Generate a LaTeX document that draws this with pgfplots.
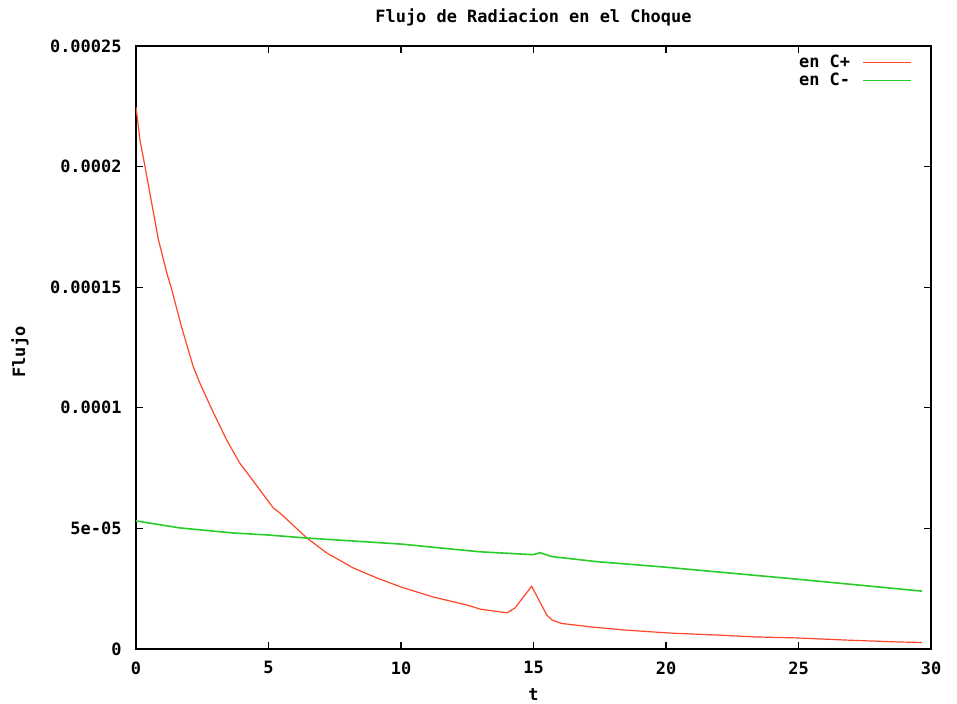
\documentclass[border=0pt]{standalone}
\usepackage{pgfplots}
\pgfplotsset{compat=1.18}
\usepackage{fontspec}
\newfontfamily\gpfont{DejaVu Sans Mono}
\definecolor{gpred}{RGB}{255,70,40}
\definecolor{gpgreen}{RGB}{40,205,40}
\newcommand{\gpf}{\gpfont\bfseries\fontsize{17}{19}\selectfont}
\begin{document}
\begin{tikzpicture}
\path[use as bounding box] (-136bp,-55bp) rectangle (821bp,649bp);
\begin{axis}[
  at={(0,0)}, anchor=south west,
  scale only axis,
  width=795bp, height=603bp,
  xmin=0, xmax=30, ymin=0, ymax=0.00025,
  xtick={0,5,10,15,20,25,30},
  xticklabels={0,5,10,15,20,25,30},
  ytick={0,0.00005,0.0001,0.00015,0.0002,0.00025},
  yticklabels={0,5e-05,0.0001,0.00015,0.0002,0.00025},
  scaled y ticks=false,
  tick align=inside,
  major tick length=7bp,
  minor tick num=0,
  axis line style={black, line width=1.2bp},
  every tick/.style={black, line width=1.2bp},
  ticklabel style={font=\gpf},
  xticklabel style={yshift=-9bp},
  yticklabel style={xshift=-11bp},
  every axis title shift=0pt,
  title={Flujo de Radiacion en el Choque},
  title style={font=\gpf, at={(0.5,1)}, anchor=center, yshift=29bp},
  xlabel={t},
  xlabel style={font=\gpf, at={(axis description cs:0.5,0)}, anchor=center, yshift=-46bp},
  ylabel={Flujo},
  ylabel style={font=\gpf, at={(axis description cs:-0.146,0.4925)}, anchor=center, rotate=0},
  legend style={draw=none, fill=none, at={(0.977,0.99)}, anchor=north east,
    font=\gpf, row sep=0bp, column sep=10bp, inner sep=1bp},
  legend cell align=right,
  legend plot pos=right,
  legend image code/.code={\draw[#1, line width=1.4bp] (0bp,0bp) -- (48bp,0bp);},
]
\addplot[color=gpred, line width=1.2bp] coordinates {
(0,2.247e-4) (0.15,2.11e-4) (0.34,2.0e-4) (0.59,1.85e-4) (0.84,1.70e-4)
(1.16,1.56e-4) (1.35,1.49e-4) (1.54,1.41e-4) (1.72,1.335e-4) (2.16,1.17e-4)
(2.42,1.10e-4) (2.92,9.8e-5) (3.42,8.67e-5) (3.92,7.7e-5) (4.4,7.0e-5)
(5.18,5.85e-5) (5.43,5.64e-5) (6.45,4.6e-5) (7.2,3.98e-5) (8.2,3.36e-5)
(9.1,2.94e-5) (10.0,2.57e-5) (11.2,2.16e-5) (12.5,1.82e-5) (13.0,1.65e-5)
(14.0,1.5e-5) (14.3,1.7e-5) (14.93,2.6e-5) (15.5,1.41e-5) (15.7,1.2e-5)
(16.06,1.06e-5) (17.13,9.2e-6) (18.4,7.9e-6) (20.15,6.6e-6) (21.9,5.8e-6)
(23.4,5.0e-6) (24.9,4.6e-6) (26.8,3.7e-6) (28.8,2.9e-6) (29.66,2.7e-6)
};
\addlegendentry{en C+}
\addplot[color=gpgreen, line width=1.6bp] coordinates {
(0,5.31e-5) (1.66,5.02e-5) (3.66,4.81e-5) (4.94,4.73e-5) (6.45,4.6e-5)
(10,4.35e-5) (12.98,4.03e-5) (14.98,3.91e-5) (15.25,3.99e-5) (15.7,3.83e-5)
(17.4,3.62e-5) (19.9,3.4e-5) (24.9,2.9e-5) (29.66,2.4e-5)
};
\addlegendentry{en C-}
\end{axis}
\end{tikzpicture}
\end{document}
